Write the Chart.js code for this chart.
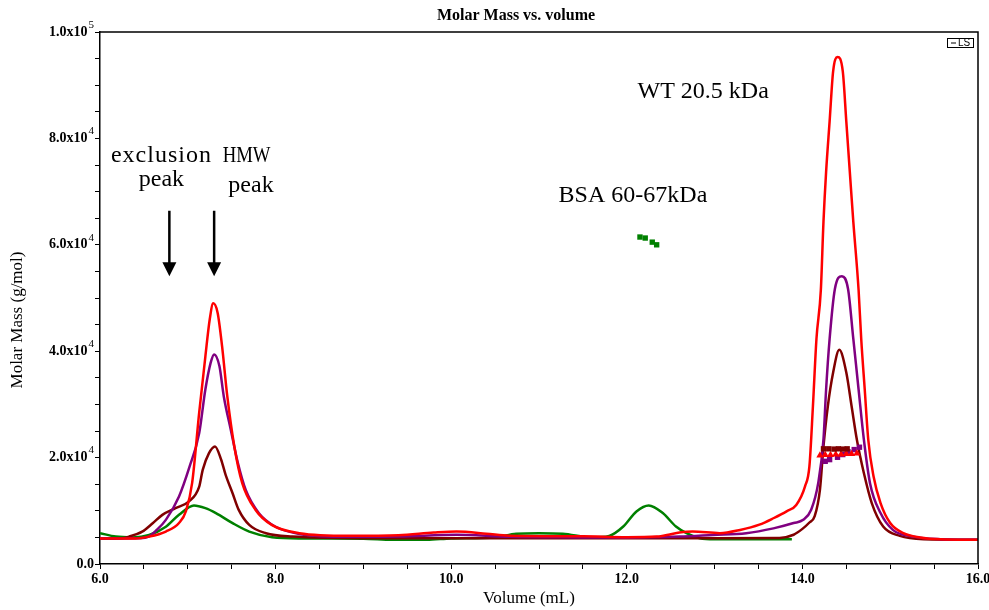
<!DOCTYPE html>
<html>
<head>
<meta charset="utf-8">
<script src="https://cdn.jsdelivr.net/npm/chart.js@4/dist/chart.umd.min.js"></script>
<style>
  html, body { margin: 0; padding: 0; background: #fff; }
  #wrap { width: 989px; height: 610px; position: relative; }
</style>
</head>
<body>
<div id="wrap"><canvas id="chart" width="989" height="610"></canvas></div>
<script>
// --- Data (volume in mL, molar mass in g/mol) ---
const redVol  = [6.0, 6.4, 6.56, 6.75, 6.9, 6.98, 7.05, 7.13, 7.2, 7.25, 7.29, 7.34, 7.39, 7.45, 7.53, 7.62, 7.77, 7.96, 8.27, 8.84, 9.4, 9.8, 10.06, 10.4, 10.66, 11.5, 12.0, 12.34, 12.6, 12.75, 13.06, 13.29, 13.51, 13.67, 13.82, 13.93, 14.03, 14.08, 14.12, 14.16, 14.21, 14.24, 14.27, 14.31, 14.35, 14.40, 14.46, 14.50, 14.54, 14.58, 14.64, 14.67, 14.71, 14.75, 14.81, 14.89, 15.0, 15.15, 15.34, 15.57, 16.0];
const redMass = [4800, 4800, 5150, 6100, 7700, 10000, 15300, 28500, 39000, 46000, 49000, 47200, 41000, 31500, 22100, 15200, 10200, 7300, 5800, 5300, 5400, 5900, 6100, 5700, 5300, 5200, 5050, 5150, 5900, 6100, 5800, 6400, 7400, 8600, 9900, 11100, 14600, 18400, 29700, 42300, 51500, 64300, 73700, 83200, 92600, 95300, 92600, 83200, 73700, 64300, 51500, 42300, 32800, 23400, 16500, 11450, 7700, 5800, 5000, 4650, 4550];

const purpleVol  = [6.0, 6.45, 6.56, 6.64, 6.75, 6.9, 7.02, 7.13, 7.2, 7.26, 7.30, 7.36, 7.41, 7.49, 7.57, 7.66, 7.81, 8.0, 8.27, 8.84, 9.4, 10.06, 10.66, 11.5, 12.0, 12.6, 12.98, 13.36, 13.67, 13.9, 14.01, 14.10, 14.18, 14.24, 14.27, 14.31, 14.37, 14.45, 14.52, 14.58, 14.64, 14.70, 14.77, 14.89, 15.03, 15.26, 15.57, 16.0];
const purpleMass = [4800, 4850, 5200, 6300, 8300, 12700, 18300, 24600, 32800, 37800, 39400, 37200, 31500, 25200, 19000, 13900, 9550, 7000, 5650, 5100, 5150, 5500, 5100, 5000, 4950, 5150, 5470, 5800, 6700, 7700, 8300, 10200, 15200, 23400, 32800, 42300, 51700, 54100, 51700, 42300, 32800, 23400, 15200, 9570, 6420, 5150, 4660, 4550];

const maroonVol  = [6.0, 6.25, 6.33, 6.48, 6.6, 6.71, 6.86, 7.01, 7.13, 7.17, 7.24, 7.31, 7.38, 7.43, 7.51, 7.58, 7.70, 7.89, 8.19, 9.0, 10.0, 11.0, 12.0, 12.98, 13.74, 13.9, 14.0, 14.08, 14.14, 14.20, 14.24, 14.29, 14.35, 14.42, 14.50, 14.56, 14.62, 14.70, 14.79, 14.92, 15.11, 15.38, 16.0];
const maroonMass = [4800, 4850, 5150, 6080, 7660, 9230, 10490, 11730, 14560, 17700, 20800, 22100, 19600, 16800, 13300, 10170, 7340, 5780, 5150, 4850, 4850, 4850, 4850, 4850, 4900, 5500, 6600, 7800, 9000, 14000, 22100, 29700, 36000, 40250, 36000, 29700, 23400, 17100, 11450, 7040, 5280, 4660, 4550];

const greenVol  = [6.0, 6.18, 6.37, 6.56, 6.75, 6.9, 7.07, 7.2, 7.32, 7.51, 7.70, 7.96, 8.3, 9.0, 9.33, 9.72, 10.0, 10.5, 10.74, 11.0, 11.27, 11.6, 11.8, 11.96, 12.11, 12.25, 12.41, 12.56, 12.68, 12.83, 13.0, 13.88];
const greenMass = [5800, 5150, 5000, 5450, 7000, 9250, 11000, 10500, 9570, 7680, 6100, 5030, 4800, 4750, 4550, 4550, 4800, 5000, 5700, 5800, 5700, 5000, 5280, 7040, 9870, 11000, 9570, 7040, 5790, 4850, 4650, 4650];

// molar mass points across the peaks
const bsaVol  = [12.15, 12.21, 12.29, 12.34];
const bsaMass = [61460, 61270, 60500, 60000];
const maroonPtVol  = [14.24, 14.30, 14.36, 14.41, 14.46, 14.51];
const maroonPtMass = [21650, 21650, 21600, 21650, 21600, 21650];
const redPtVol  = [14.20, 14.26, 14.32, 14.38, 14.44, 14.50, 14.56, 14.62];
const redPtMass = [20400, 20500, 20500, 20600, 20600, 20700, 20700, 20800];
const purplePtVol  = [14.26, 14.31, 14.40, 14.46, 14.52, 14.59, 14.65];
const purplePtMass = [19300, 19620, 20060, 20570, 21080, 21510, 21950];

// axis ticks
const xLabelTicks = [6, 8, 10, 12, 14, 16];
const yLabelTicks = [0, 20000, 40000, 60000, 80000, 100000];

// notes placed in data coordinates (sx = horizontal squeeze, ls = letter spacing)
const notes = [
    { text: 'WT 20.5 kDa', x: 12.87, y: 88700 },
    { text: 'BSA 60-67kDa', x: 12.07, y: 69300 },
    { text: 'exclusion', x: 6.70, y: 76700, ls: 1 },
    { text: 'peak', x: 6.70, y: 72200 },
    { text: 'HMW', x: 7.67, y: 76700, sx: 0.78 },
    { text: 'peak', x: 7.72, y: 71200 }
];
const arrows = [
    { x: 6.79, from: 66400, to: 54100 },
    { x: 7.30, from: 66400, to: 54100 }
];

const toPoints = (xs, ys) => xs.map((x, i) => ({ x: x, y: ys[i] }));

const lineSet = (label, xs, ys, color, order) => ({
    label: label,
    data: toPoints(xs, ys),
    borderColor: color,
    backgroundColor: color,
    borderWidth: 2.5,
    pointRadius: 0,
    cubicInterpolationMode: 'monotone',
    fill: false,
    order: order
});

const markerSet = (label, xs, ys, color, style, radius) => ({
    label: label,
    data: toPoints(xs, ys),
    showLine: false,
    borderColor: color,
    backgroundColor: color,
    borderWidth: 0,
    pointStyle: style,
    pointRadius: radius,
    order: 0
});

const SERIF = "'Liberation Serif', 'Times New Roman', serif";

// --- Extra text: title, superscript y labels, axis titles, notes ---
const decorPlugin = {
    id: 'decor',
    afterDraw(chart) {
        const ctx = chart.ctx;
        const area = chart.chartArea;
        const xs = chart.scales.x;
        const ys = chart.scales.y;
        ctx.save();

        // frame top/right
        ctx.strokeStyle = '#000';
        ctx.lineWidth = 1.5;
        ctx.beginPath();
        ctx.moveTo(area.left, area.top);
        ctx.lineTo(area.right, area.top);
        ctx.lineTo(area.right, area.bottom);
        ctx.stroke();

        ctx.fillStyle = '#000';
        ctx.textBaseline = 'middle';

        // title
        ctx.font = 'bold 16px ' + SERIF;
        ctx.textAlign = 'center';
        ctx.fillText('Molar Mass vs. volume', 516, 16);

        // y labels like 2.0x10^4
        yLabelTicks.forEach(v => {
            const py = ys.getPixelForValue(v);
            const right = 94;
            ctx.textAlign = 'right';
            if (v === 0) {
                ctx.font = 'bold 14px ' + SERIF;
                ctx.fillText('0.0', right, py);
                return;
            }
            const exp = Math.floor(Math.log10(v));
            const mant = (v / Math.pow(10, exp)).toFixed(1);
            ctx.font = '11px ' + SERIF;
            const supW = ctx.measureText(String(exp)).width;
            ctx.fillText(String(exp), right, py - 7);
            ctx.font = 'bold 14px ' + SERIF;
            ctx.fillText(mant + 'x10', right - supW - 1, py);
        });

        // axis titles
        ctx.font = '17px ' + SERIF;
        ctx.textAlign = 'center';
        ctx.fillText('Volume (mL)', 529, 599);
        ctx.save();
        ctx.translate(18, 320);
        ctx.rotate(-Math.PI / 2);
        ctx.fillText('Molar Mass (g/mol)', 0, 0);
        ctx.restore();

        // LS legend box
        ctx.lineWidth = 1;
        ctx.strokeRect(947.5, 38.5, 26, 9);
        ctx.beginPath();
        ctx.moveTo(951, 43);
        ctx.lineTo(956, 43);
        ctx.stroke();
        ctx.font = '10px "Liberation Sans", Arial, sans-serif';
        ctx.textAlign = 'left';
        ctx.fillText('LS', 958, 43.5);

        // notes
        ctx.font = '24px ' + SERIF;
        ctx.textAlign = 'center';
        notes.forEach(n => {
            ctx.save();
            ctx.translate(xs.getPixelForValue(n.x), ys.getPixelForValue(n.y));
            if (n.sx) ctx.scale(n.sx, 1);
            ctx.letterSpacing = (n.ls || 0) + 'px';
            ctx.fillText(n.text, 0, 0);
            ctx.restore();
        });

        // arrows
        ctx.strokeStyle = '#000';
        ctx.lineWidth = 2.5;
        arrows.forEach(a => {
            const px = xs.getPixelForValue(a.x);
            const y0 = ys.getPixelForValue(a.from);
            const y1 = ys.getPixelForValue(a.to);
            ctx.beginPath();
            ctx.moveTo(px, y0);
            ctx.lineTo(px, y1 - 12);
            ctx.stroke();
            ctx.beginPath();
            ctx.moveTo(px - 7, y1 - 14);
            ctx.lineTo(px + 7, y1 - 14);
            ctx.lineTo(px, y1);
            ctx.closePath();
            ctx.fill();
        });

        ctx.restore();
    }
};

new Chart(document.getElementById('chart'), {
    type: 'line',
    data: {
        datasets: [
            markerSet('BSA', bsaVol, bsaMass, '#008000', 'rect', 3.8),
            markerSet('maroon pts', maroonPtVol, maroonPtMass, '#800000', 'rect', 3.8),
            markerSet('red pts', redPtVol, redPtMass, '#ff0000', 'triangle', 4.2),
            markerSet('purple pts', purplePtVol, purplePtMass, '#800080', 'rect', 3.8),
            lineSet('red', redVol, redMass, '#ff0000', 1),
            lineSet('purple', purpleVol, purpleMass, '#800080', 2),
            lineSet('maroon', maroonVol, maroonMass, '#800000', 3),
            lineSet('green', greenVol, greenMass, '#008000', 4)
        ]
    },
    options: {
        responsive: false,
        animation: false,
        layout: { padding: { top: 32, right: 11, left: 0, bottom: 0 } },
        plugins: {
            legend: { display: false },
            tooltip: { enabled: false },
            title: { display: false }
        },
        scales: {
            x: {
                type: 'linear',
                min: 6,
                max: 16,
                ticks: {
                    stepSize: 0.5,
                    maxTicksLimit: 50,
                    autoSkip: false,
                    maxRotation: 0,
                    padding: 2,
                    color: '#000',
                    font: { family: SERIF, weight: 'bold', size: 14 },
                    callback: v => (xLabelTicks.includes(v) ? v.toFixed(1) : '')
                },
                grid: { drawOnChartArea: false, tickLength: 5, color: '#000', lineWidth: 1 },
                border: { color: '#000', width: 1.5 },
                afterFit(s) { s.height = 46; s.paddingLeft = 0; s.paddingRight = 0; }
            },
            y: {
                type: 'linear',
                min: 0,
                max: 100000,
                ticks: {
                    stepSize: 5000,
                    maxTicksLimit: 50,
                    autoSkip: false,
                    callback: () => ''
                },
                grid: { drawOnChartArea: false, tickLength: 5, color: '#000', lineWidth: 1 },
                border: { color: '#000', width: 1.5 },
                afterFit(s) { s.width = 100; s.paddingTop = 0; s.paddingBottom = 0; }
            }
        }
    },
    plugins: [decorPlugin]
});
</script>
</body>
</html>
